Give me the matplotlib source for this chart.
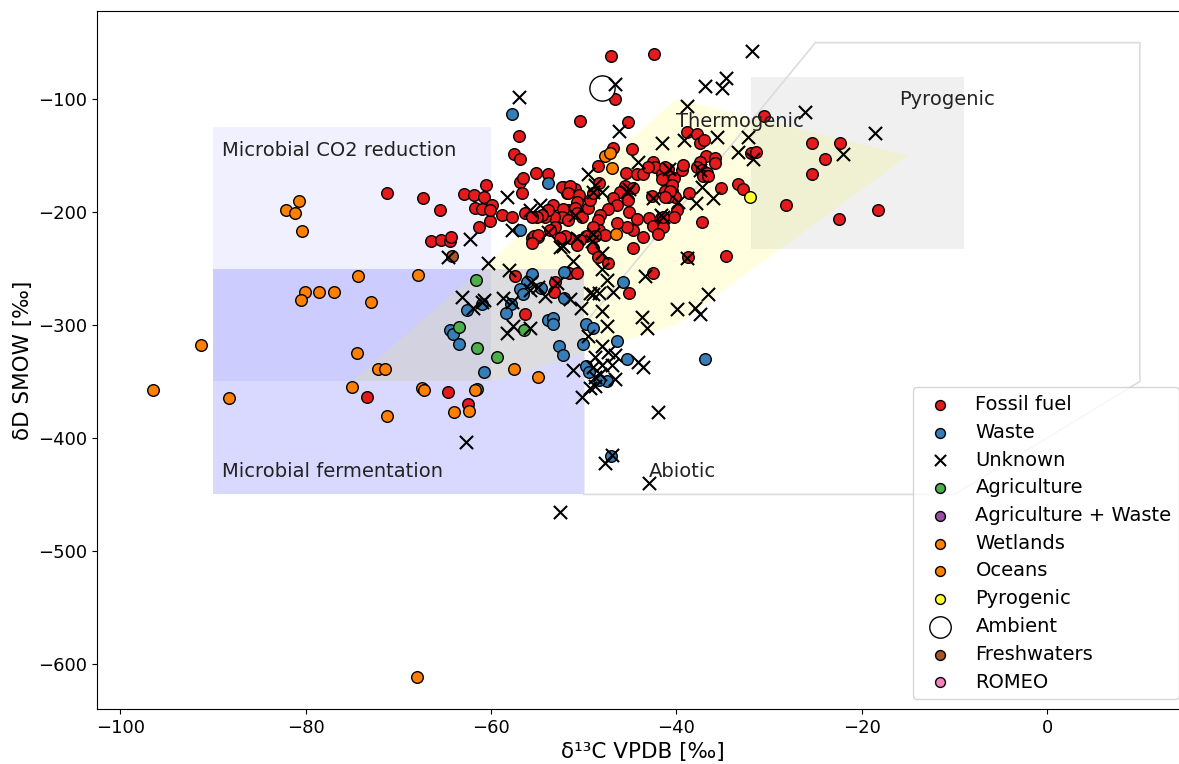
# Methane source signatures: dual isotope plot (d13C vs dD)
import numpy as np
import matplotlib.pyplot as plt
from matplotlib.patches import Polygon, Rectangle

plt.rcParams['font.family'] = ['DejaVu Sans']
plt.rcParams['font.size'] = 13

# ---- data (d13C VPDB, dD SMOW) ----
fossil_x = [-47.0, -42.4, -46.6, -50.4, -45.2, -57.0, -57.5, -56.9, -56.9, -56.5, -56.7, -55.1, -53.9,
            -71.2, -67.3, -65.5, -60.5, -62.9, -61.8, -60.8, -61.7, -59.9, -58.8, -60.1, -61.3,
            -66.5, -65.4, -64.4, -64.3, -57.4, -55.6, -54.9, -56.3, -53.8, -53.3, -52.2, -51.8, -50.9,
            -53.1, -51.7, -51.5, -53.2, -56.3, -51.6, -73.4, -64.6, -62.5,
            -52.3, -51.5, -51.7, -50.5, -50.7, -52.2, -50.9, -50.7, -52.3, -53.2, -54.2, -53.9, -51.7,
            -50.2, -49.5, -49.3, -49.0, -48.4, -48.5, -46.8, -44.8, -45.4, -44.2, -43.6, -42.5, -42.3,
            -43.1, -41.5, -40.3, -40.9, -41.2, -40.5, -40.1, -42.6, -45.5, -46.1, -46.8, -46.4, -44.7,
            -45.2, -45.1, -44.2, -43.0, -41.7, -42.5, -41.4, -42.0, -43.6, -44.7, -45.3, -46.4, -47.4,
            -48.2, -48.5, -48.4, -47.7, -49.0, -49.7, -48.8, -50.4, -50.7, -52.0, -52.5, -53.1, -53.6,
            -54.5, -55.0, -55.6, -55.4, -54.9, -55.6, -49.0, -44.7, -57.7, -61.0, -60.1, -40.9, -39.9,
            -40.3, -41.4,
            -30.5, -38.9, -37.8, -37.5, -37.0, -36.8, -35.8, -35.8, -37.4, -37.8, -37.2, -36.7, -37.1,
            -36.6, -39.4, -39.3, -41.2, -41.5, -40.5, -40.7, -41.2, -38.6, -35.2, -33.4, -32.8, -32.0,
            -31.4, -37.2, -28.2, -25.4, -24.0, -25.4, -22.3, -22.5, -18.3, -34.7, -38.7,
            -42.5, -45.1, -47.4, -48.5, -50.7]
fossil_y = [-62, -60, -100, -119, -120, -133, -149, -153, -173, -170, -183, -165, -166,
            -183, -188, -198, -176, -184, -185, -187, -196, -194, -203, -208, -213,
            -226, -225, -226, -222, -257, -223, -222, -201, -198, -194, -178, -183, -180,
            -262, -198, -223, -271, -290, -254, -364, -359, -370,
            -178, -177, -183, -185, -191, -197, -196, -201, -204, -204, -204, -198, -207,
            -204, -196, -189, -183, -174, -159, -143, -144, -165, -166, -166, -156, -160,
            -160, -166, -170, -162, -181, -181, -187, -186, -177, -182, -188, -194, -179,
            -189, -200, -206, -205, -205, -212, -213, -219, -222, -216, -213, -210, -197,
            -203, -207, -216, -220, -213, -221, -221, -225, -229, -221, -223, -213, -216,
            -203, -204, -204, -221, -220, -227, -232, -232, -204, -197, -198, -187, -198,
            -204, -204,
            -115, -129, -131, -139, -136, -150, -152, -157, -156, -160, -163, -165, -168,
            -168, -163, -158, -160, -171, -176, -181, -187, -183, -179, -175, -180, -148,
            -147, -209, -194, -139, -153, -166, -139, -206, -198, -239, -240,
            -254, -272, -245, -240, -254]

waste_x = [-57.7, -53.8, -56.9, -55.6, -56.1, -56.9, -56.5, -54.6, -52.1, -52.1, -57.8, -58.4,
           -62.6, -61.0, -64.4, -64.1, -63.5, -53.9, -53.3, -53.3, -52.7, -52.2, -60.7, -45.8,
           -49.8, -49.0, -50.1, -46.4, -45.3, -49.8, -49.4, -47.5, -48.3, -36.9, -47.1]
waste_y = [-113, -174, -216, -255, -262, -268, -273, -267, -253, -276, -281, -289,
           -287, -281, -304, -308, -317, -296, -294, -299, -319, -327, -342, -262,
           -299, -303, -317, -314, -330, -336, -342, -350, -349, -330, -416]

unknown_x = [-31.8, -36.9, -34.6, -35.1, -46.6, -57.0, -38.8, -26.1, -18.6, -46.2, -41.5, -39.2,
             -35.6, -32.3, -33.3, -31.7, -22.0, -44.1, -49.5, -48.8, -45.3, -40.8, -37.4, -36.0,
             -37.9, -39.8, -42.5, -41.7, -50.9, -48.0, -49.0, -45.1, -58.3, -54.7, -57.7, -53.9,
             -52.2, -50.7, -49.1, -48.0, -51.1, -38.8, -60.3, -58.1, -52.9, -47.5, -43.4, -49.0,
             -36.6, -48.0, -55.8, -54.9, -54.2, -51.5, -49.3, -48.4, -46.8, -50.3, -48.0, -60.8,
             -58.7, -43.7, -43.2, -39.9, -38.0, -37.4, -47.5, -57.6, -55.8, -58.3, -49.5, -48.0,
             -48.8, -47.4, -46.6, -51.2, -49.0, -48.0, -46.9, -44.1, -43.6, -48.8, -48.2, -46.6,
             -48.8, -49.3, -50.2, -42.0, -46.9, -47.7, -43.0, -52.5, -64.6, -62.3, -63.1, -61.9,
             -61.0, -62.7, -57.7, -52.5, -55.8, -49.0, -37.2, -41.4, -55.7]
unknown_y = [-57, -88, -81, -90, -87, -98, -106, -111, -130, -128, -139, -136,
             -134, -134, -147, -153, -149, -156, -166, -176, -182, -162, -163, -188,
             -192, -191, -188, -203, -203, -182, -182, -180, -187, -194, -216, -218,
             -230, -223, -226, -250, -243, -241, -245, -251, -263, -260, -257, -273,
             -273, -236, -269, -266, -274, -277, -272, -272, -271, -285, -288, -278,
             -276, -293, -303, -286, -285, -290, -301, -301, -303, -307, -310, -319,
             -328, -324, -327, -340, -337, -335, -335, -333, -337, -346, -343, -348,
             -354, -356, -364, -377, -415, -422, -440, -466, -240, -224, -275, -285,
             -280, -404, -280, -231, -198, -219, -178, -204, -262]

agri_x = [-61.6, -63.4, -61.5, -59.4, -56.4, -61.5]
agri_y = [-260, -302, -320, -328, -304, -357]

agri_waste_x = []
agri_waste_y = []

wetlands_x = [-82.1, -80.7, -81.1, -80.4, -74.3, -67.9, -80.1, -78.5, -76.9, -80.5, -72.9, -91.3,
              -74.4, -72.2, -71.4, -75.0, -88.3, -67.4, -67.2, -71.2, -64.0, -62.4, -61.7, -57.5,
              -54.9, -96.5]
wetlands_y = [-198, -190, -201, -217, -257, -256, -271, -271, -271, -278, -280, -318,
              -325, -339, -339, -355, -365, -356, -358, -381, -377, -376, -358, -339,
              -346, -358]

oceans_x = [-47.7, -47.2, -46.9, -46.5, -68.0]
oceans_y = [-150, -148, -161, -219, -612]

pyro_x = [-32.1]
pyro_y = [-187]

ambient_x = [-48.0]
ambient_y = [-90]

fresh_x = [-64.2]
fresh_y = [-239]

romeo_x = []
romeo_y = []

# source fields
co2_red = dict(x=-90, y=-350, w=30, h=225)
ferment = dict(x=-90, y=-450, w=40, h=200)
pyro_box = dict(x=-32, y=-233, w=23, h=153)
thermo_poly = [(-75, -350), (-40, -100), (-15, -150), (-40, -300), (-60, -350)]
abiotic_poly = [(-50, -450), (-50, -300), (-25, -50), (10, -50), (10, -350), (-10, -450)]

W, H = 1179, 764
fig = plt.figure(figsize=(W / 100, H / 100), dpi=100)
ax = fig.add_axes([97 / W, 55 / H, 1092 / W, 698 / H])

ax.add_patch(Rectangle((co2_red['x'], co2_red['y']), co2_red['w'], co2_red['h'],
                       facecolor='blue', alpha=0.06, edgecolor='none', zorder=1))
ax.add_patch(Rectangle((ferment['x'], ferment['y']), ferment['w'], ferment['h'],
                       facecolor='blue', alpha=0.15, edgecolor='none', zorder=1))
ax.add_patch(Polygon(thermo_poly, closed=True, facecolor='yellow', alpha=0.12,
                     edgecolor='none', zorder=1))
ax.add_patch(Rectangle((pyro_box['x'], pyro_box['y']), pyro_box['w'], pyro_box['h'],
                       facecolor='black', alpha=0.06, edgecolor='none', zorder=1))
ax.add_patch(Polygon(abiotic_poly, closed=True, facecolor='none', edgecolor='#dcdcdc',
                     linewidth=1.2, zorder=1))

tkw = dict(color='#222222', fontsize=14)
ax.text(-89, -150, 'Microbial CO2 reduction', **tkw)
ax.text(-89, -435, 'Microbial fermentation', **tkw)
ax.text(-40, -125, 'Thermogenic', zorder=5, **tkw)
ax.text(-16, -105, 'Pyrogenic', **tkw)
ax.text(-43, -435, 'Abiotic', zorder=5, **tkw)

kw = dict(s=70, edgecolors='black', linewidths=1, zorder=3)
ax.scatter(fossil_x, fossil_y, color='#e41a1c', label='Fossil fuel', **kw)
ax.scatter(waste_x, waste_y, color='#377eb8', label='Waste', **kw)
ax.scatter(unknown_x, unknown_y, marker='x', color='black', s=90, linewidths=1.5,
           label='Unknown', zorder=4)
ax.scatter(agri_x, agri_y, color='#4daf4a', label='Agriculture', **kw)
ax.scatter(agri_waste_x, agri_waste_y, color='#984ea3', label='Agriculture + Waste', **kw)
ax.scatter(wetlands_x, wetlands_y, color='#ff7f00', label='Wetlands', **kw)
ax.scatter(oceans_x, oceans_y, color='#ff7f00', label='Oceans', **kw)
ax.scatter(pyro_x, pyro_y, color='#ffff33', label='Pyrogenic', **kw)
ax.scatter(ambient_x, ambient_y, s=330, facecolors='white', edgecolors='black',
           linewidths=1, label='Ambient', zorder=3)
ax.scatter(fresh_x, fresh_y, color='#a65628', label='Freshwaters', **kw)
ax.scatter(romeo_x, romeo_y, color='#f781bf', label='ROMEO', **kw)

ax.set_xlim(-102.5, 15.3)
ax.set_ylim(-640, -22)
ax.set_xlabel('δ¹³C VPDB [‰]', fontsize=15.5)
ax.set_ylabel('δD SMOW [‰]', fontsize=15.5)
ax.legend(loc='lower right', fontsize=14, labelspacing=0.45, markerscale=0.85)

fig.savefig('out.png', dpi=100)
